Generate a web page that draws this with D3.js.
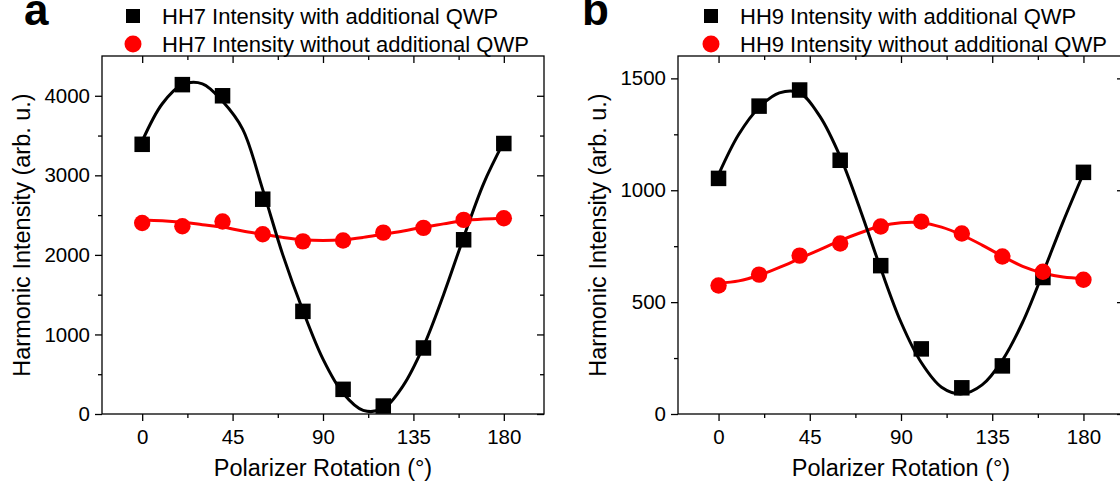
<!DOCTYPE html>
<html>
<head>
<meta charset="utf-8">
<script src="https://cdn.jsdelivr.net/npm/d3@7"></script>
<style>
  body { margin: 0; background: #fff; }
  svg { display: block; font-family: "Liberation Sans", Arial, sans-serif; }
</style>
</head>
<body>
<svg id="chart" width="1120" height="488"></svg>
<script>
"use strict";

// measured points (polarizer angle in degrees)
const angles = [0, 20, 40, 60, 80, 100, 120, 140, 160, 180];
const fitAngles = [0, 10, 20, 30, 40, 50, 60, 70, 80, 90, 100, 110, 120, 130, 140, 150, 160, 170, 180];

const hh7With = [3390, 4140, 4000, 2700, 1290, 310, 100, 830, 2190, 3400];
const hh7Without = [2400, 2360, 2420, 2260, 2170, 2180, 2280, 2340, 2440, 2460];
const hh7WithFit = [3430, 3900, 4140, 4150, 3930, 3580, 2820, 2000, 1300, 690, 260, 45, 70, 360, 850, 1500, 2220, 2900, 3420];
const hh7WithoutFit = [2440, 2430, 2410, 2380, 2350, 2300, 2260, 2220, 2190, 2180, 2190, 2220, 2260, 2300, 2350, 2390, 2430, 2450, 2460];

const hh9With = [1053, 1376, 1448, 1134, 663, 291, 117, 215, 610, 1080];
const hh9Without = [574, 623, 708, 762, 838, 860, 807, 704, 636, 600];
const hh9WithFit = [1070, 1250, 1370, 1435, 1435, 1330, 1150, 910, 650, 410, 230, 120, 90, 130, 240, 410, 630, 860, 1075];
const hh9WithoutFit = [585, 595, 620, 655, 695, 735, 775, 810, 840, 855, 855, 835, 800, 755, 705, 660, 630, 612, 605];

const xTicks = [0, 45, 90, 135, 180];
const xMinorTicks = [22.5, 67.5, 112.5, 157.5];
const hh7YTicks = [0, 1000, 2000, 3000, 4000];
const hh7YMinorTicks = [500, 1500, 2500, 3500];
const hh9YTicks = [0, 500, 1000, 1500];
const hh9YMinorTicks = [250, 750, 1250];

const BLACK = '#000';
const RED = '#ff0000';

const panels = [
  {
    letter: 'a', left: 102, right: 544, yMax: 4500,
    yTicks: hh7YTicks, yMinor: hh7YMinorTicks,
    withVals: hh7With, withoutVals: hh7Without,
    withFit: hh7WithFit, withoutFit: hh7WithoutFit,
    labels: ['HH7 Intensity with additional QWP', 'HH7 Intensity without additional QWP'],
    letterX: 24, legendX: 133
  },
  {
    letter: 'b', left: 678, right: 1124, yMax: 1600,
    yTicks: hh9YTicks, yMinor: hh9YMinorTicks,
    withVals: hh9With, withoutVals: hh9Without,
    withFit: hh9WithFit, withoutFit: hh9WithoutFit,
    labels: ['HH9 Intensity with additional QWP', 'HH9 Intensity without additional QWP'],
    letterX: 582, legendX: 711
  }
];

const svg = d3.select('#chart');
const plotTop = 56;
const plotBottom = 414;

function styleAxis(g) {
  g.select('.domain').remove();
  g.selectAll('line').attr('stroke', BLACK).attr('stroke-width', 1.3);
  g.selectAll('text').attr('fill', BLACK).attr('font-size', 20.5);
}

function drawPanel(p) {
  const g = svg.append('g');
  const x = d3.scaleLinear().domain([-20, 200]).range([p.left, p.right]);
  const y = d3.scaleLinear().domain([0, p.yMax]).range([plotBottom, plotTop]);

  // fit curves
  const line = d3.line()
    .x((d, i) => x(fitAngles[i]))
    .y((d) => y(d))
    .curve(d3.curveCatmullRom);

  g.append('path').attr('d', line(p.withoutFit))
    .attr('fill', 'none').attr('stroke', RED).attr('stroke-width', 3);
  g.append('path').attr('d', line(p.withFit))
    .attr('fill', 'none').attr('stroke', BLACK).attr('stroke-width', 3);

  // markers
  const sq = 15.5;
  g.append('g').selectAll('rect').data(p.withVals).join('rect')
    .attr('x', (d, i) => x(angles[i]) - sq / 2)
    .attr('y', (d) => y(d) - sq / 2)
    .attr('width', sq).attr('height', sq)
    .attr('fill', BLACK);
  g.append('g').selectAll('circle').data(p.withoutVals).join('circle')
    .attr('cx', (d, i) => x(angles[i]))
    .attr('cy', (d) => y(d))
    .attr('r', 8.2)
    .attr('fill', RED);

  // axes: outward on bottom/left, inward mirror on top/right
  g.append('g').attr('transform', `translate(0,${plotBottom})`)
    .call(d3.axisBottom(x).tickValues(xTicks).tickSize(7).tickPadding(8).tickFormat(d3.format('d')))
    .call(styleAxis);
  g.append('g').attr('transform', `translate(0,${plotBottom})`)
    .call(d3.axisBottom(x).tickValues(xMinorTicks).tickSize(4).tickFormat(''))
    .call(styleAxis);
  g.append('g').attr('transform', `translate(0,${plotTop})`)
    .call(d3.axisBottom(x).tickValues(xTicks).tickSize(7).tickFormat(''))
    .call(styleAxis);
  g.append('g').attr('transform', `translate(0,${plotTop})`)
    .call(d3.axisBottom(x).tickValues(xMinorTicks).tickSize(4).tickFormat(''))
    .call(styleAxis);

  g.append('g').attr('transform', `translate(${p.left},0)`)
    .call(d3.axisLeft(y).tickValues(p.yTicks).tickSize(7).tickPadding(5).tickFormat(d3.format('d')))
    .call(styleAxis);
  g.append('g').attr('transform', `translate(${p.left},0)`)
    .call(d3.axisLeft(y).tickValues(p.yMinor).tickSize(4).tickFormat(''))
    .call(styleAxis);
  g.append('g').attr('transform', `translate(${p.right},0)`)
    .call(d3.axisLeft(y).tickValues(p.yTicks).tickSize(7).tickFormat(''))
    .call(styleAxis);
  g.append('g').attr('transform', `translate(${p.right},0)`)
    .call(d3.axisLeft(y).tickValues(p.yMinor).tickSize(4).tickFormat(''))
    .call(styleAxis);

  g.append('rect')
    .attr('x', p.left).attr('y', plotTop)
    .attr('width', p.right - p.left).attr('height', plotBottom - plotTop)
    .attr('fill', 'none').attr('stroke', BLACK).attr('stroke-width', 1.3);

  // axis titles
  g.append('text')
    .attr('x', (p.left + p.right) / 2).attr('y', 476)
    .attr('text-anchor', 'middle').attr('font-size', 23.5)
    .text('Polarizer Rotation (°)');
  g.append('text')
    .attr('transform', `translate(${p.left - 72.5},${(plotTop + plotBottom) / 2}) rotate(-90)`)
    .attr('text-anchor', 'middle').attr('font-size', 23.5)
    .text('Harmonic Intensity (arb. u.)');

  // legend
  const lg = g.append('g').attr('font-size', 22);
  lg.append('rect')
    .attr('x', p.legendX - 7).attr('y', 16 - 7)
    .attr('width', 14).attr('height', 14).attr('fill', BLACK);
  lg.append('circle')
    .attr('cx', p.legendX).attr('cy', 44).attr('r', 8.5).attr('fill', RED);
  lg.append('text').attr('x', p.legendX + 29).attr('y', 23.5).text(p.labels[0]);
  lg.append('text').attr('x', p.legendX + 29).attr('y', 51.5).text(p.labels[1]);

  // panel letter
  g.append('text')
    .attr('x', p.letterX).attr('y', 25)
    .attr('font-size', 44).attr('font-weight', 'bold')
    .text(p.letter);
}

panels.forEach(drawPanel);
</script>
</body>
</html>
